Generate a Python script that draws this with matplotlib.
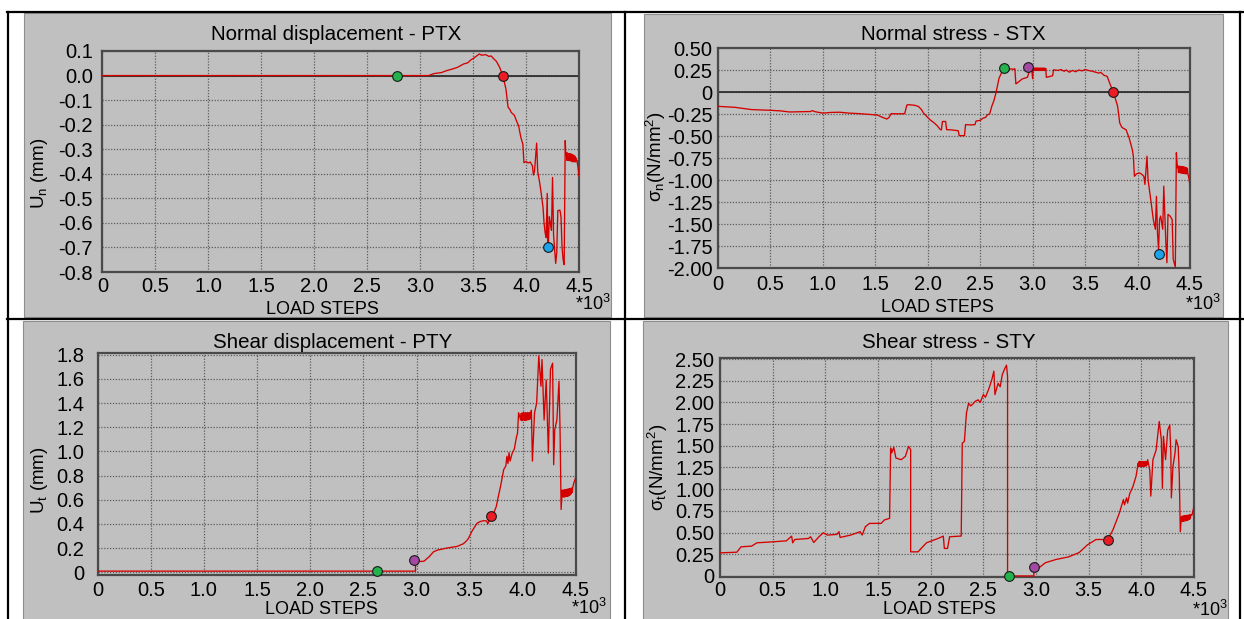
import matplotlib
matplotlib.use("Agg")
import matplotlib.pyplot as plt
from matplotlib.patches import Rectangle
from matplotlib.lines import Line2D

plt.rcParams['font.family'] = ['Liberation Sans', 'DejaVu Sans']
plt.rcParams['mathtext.default'] = 'regular'

# ---------------------------------------------------------------- data
# load steps are in units of 10^3
x_ticks = [0, 0.5, 1.0, 1.5, 2.0, 2.5, 3.0, 3.5, 4.0, 4.5]
x_tick_labels = ['0', '0.5', '1.0', '1.5', '2.0', '2.5', '3.0', '3.5', '4.0', '4.5']

# Normal displacement - PTX
ptx_steps = [0.00, 3.08, 3.13, 3.20, 3.25, 3.30, 3.35, 3.41, 3.45, 3.48, 3.51, 3.54,
             3.56, 3.58, 3.62, 3.65, 3.67, 3.70, 3.72, 3.75, 3.78, 3.81, 3.83, 3.85,
             3.86, 3.89, 3.91, 3.93, 3.95, 3.97, 3.98, 4.00, 4.02, 4.04, 4.06, 4.07,
             4.08, 4.10, 4.11, 4.13, 4.14, 4.16, 4.17, 4.18, 4.19, 4.20, 4.205, 4.21,
             4.22, 4.23, 4.24, 4.25, 4.26, 4.27, 4.28, 4.29, 4.30, 4.32, 4.33, 4.34,
             4.35, 4.36, 4.37, 4.375, 4.38, 4.385, 4.39, 4.395, 4.40, 4.405, 4.41,
             4.415, 4.42, 4.425, 4.43, 4.435, 4.44, 4.445, 4.45, 4.455, 4.46, 4.465,
             4.47, 4.475, 4.48, 4.49, 4.50]
ptx_un = [0.000, 0.000, 0.008, 0.012, 0.020, 0.026, 0.033, 0.047, 0.052, 0.064, 0.072, 0.082,
          0.088, 0.083, 0.085, 0.078, 0.080, 0.066, 0.058, 0.034, 0.000, -0.054, -0.128, -0.140,
          -0.150, -0.162, -0.185, -0.205, -0.250, -0.280, -0.355, -0.350, -0.356, -0.352, -0.368, -0.405,
          -0.390, -0.275, -0.390, -0.440, -0.470, -0.535, -0.600, -0.640, -0.660, -0.480, -0.690, -0.700,
          -0.575, -0.600, -0.630, -0.415, -0.650, -0.710, -0.765, -0.720, -0.550, -0.548, -0.575, -0.700,
          -0.750, -0.770, -0.265, -0.320, -0.315, -0.345, -0.315, -0.345, -0.318, -0.346, -0.318,
          -0.347, -0.319, -0.348, -0.320, -0.350, -0.322, -0.352, -0.325, -0.350, -0.328, -0.352,
          -0.335, -0.350, -0.345, -0.372, -0.410]
ptx_marker_steps = [2.78, 3.78, 4.21]
ptx_marker_values = [0.0, 0.0, -0.70]
ptx_marker_colors = ['#23b24b', '#ec1c24', '#1aa3e8']
ptx_yticks = [0.1, 0.0, -0.1, -0.2, -0.3, -0.4, -0.5, -0.6, -0.7, -0.8]
ptx_ylabels = ['0.1', '0.0', '-0.1', '-0.2', '-0.3', '-0.4', '-0.5', '-0.6', '-0.7', '-0.8']

# Normal stress - STX
stx_steps = [0.00, 0.16, 0.32, 0.50, 0.60, 0.68, 0.78, 0.88, 0.90, 0.93, 1.00, 1.08,
             1.16, 1.25, 1.35, 1.48, 1.52, 1.56, 1.61, 1.63, 1.65, 1.72, 1.78, 1.80,
             1.81, 1.87, 1.91, 1.94, 1.96, 2.02, 2.06, 2.09, 2.12, 2.13, 2.14, 2.17,
             2.18, 2.22, 2.26, 2.29, 2.30, 2.35, 2.36, 2.41, 2.45, 2.46, 2.50, 2.53,
             2.55, 2.57, 2.59, 2.61, 2.63, 2.65, 2.68, 2.71, 2.74, 2.76, 2.79, 2.82,
             2.83, 2.84, 2.85, 2.90, 2.93, 2.95, 2.97, 2.99, 3.00, 3.005, 3.01, 3.015,
             3.02, 3.025, 3.03, 3.035, 3.04, 3.045, 3.05, 3.055, 3.06, 3.065, 3.07,
             3.075, 3.08, 3.085, 3.09, 3.095, 3.10, 3.105, 3.11, 3.115, 3.12, 3.125,
             3.13, 3.16, 3.19, 3.20, 3.24, 3.27, 3.30, 3.32, 3.35, 3.38, 3.41, 3.44,
             3.47, 3.50, 3.53, 3.57, 3.60, 3.63, 3.65, 3.68, 3.71, 3.74, 3.77, 3.81,
             3.83, 3.85, 3.86, 3.89, 3.92, 3.95, 3.96, 3.97, 3.99, 4.02, 4.04, 4.06,
             4.07, 4.09, 4.10, 4.13, 4.15, 4.17, 4.18, 4.19, 4.20, 4.21, 4.22, 4.24,
             4.25, 4.27, 4.28, 4.29, 4.31, 4.33, 4.34, 4.36, 4.37, 4.38, 4.385, 4.39,
             4.395, 4.40, 4.405, 4.41, 4.415, 4.42, 4.425, 4.43, 4.435, 4.44, 4.445,
             4.45, 4.455, 4.46, 4.465, 4.47, 4.475, 4.48, 4.49, 4.50]
stx_sn = [-0.163, -0.174, -0.200, -0.208, -0.215, -0.227, -0.225, -0.222, -0.212, -0.225, -0.240, -0.232,
          -0.230, -0.240, -0.246, -0.258, -0.262, -0.284, -0.307, -0.290, -0.246, -0.248, -0.246, -0.150,
          -0.144, -0.150, -0.163, -0.200, -0.240, -0.314, -0.350, -0.383, -0.428, -0.430, -0.335, -0.335,
          -0.428, -0.430, -0.436, -0.440, -0.496, -0.496, -0.371, -0.374, -0.371, -0.330, -0.322, -0.295,
          -0.290, -0.258, -0.250, -0.163, -0.100, -0.011, 0.159, 0.235, 0.260, 0.254, 0.262, 0.258,
          0.265, 0.093, 0.100, 0.148, 0.160, 0.167, 0.240, 0.270, 0.150, 0.265, 0.245, 0.272,
          0.245, 0.272, 0.246, 0.273, 0.245, 0.272, 0.246, 0.272, 0.245, 0.271, 0.246,
          0.272, 0.245, 0.272, 0.246, 0.271, 0.245, 0.272, 0.246, 0.270, 0.245, 0.268,
          0.167, 0.175, 0.185, 0.252, 0.245, 0.255, 0.235, 0.250, 0.225, 0.245, 0.230, 0.250,
          0.240, 0.255, 0.245, 0.235, 0.225, 0.215, 0.223, 0.190, 0.178, 0.083, 0.000, -0.163,
          -0.352, -0.400, -0.409, -0.428, -0.523, -0.655, -0.730, -0.958, -0.930, -0.920, -0.935, -0.958,
          -1.050, -0.730, -0.996, -1.260, -1.450, -1.560, -1.186, -1.600, -1.790, -1.450, -1.410, -1.560,
          -1.070, -1.720, -1.940, -1.390, -1.410, -1.450, -1.900, -1.990, -0.690, -0.860, -0.840, -0.915,
          -0.842, -0.918, -0.845, -0.920, -0.846, -0.922, -0.848, -0.924, -0.850, -0.926, -0.852,
          -0.928, -0.856, -0.930, -0.860, -0.930, -0.868, -0.930, -0.980, -1.070]
stx_marker_steps = [2.73, 2.96, 3.77, 4.20]
stx_marker_values = [0.27, 0.28, 0.0, -1.84]
stx_marker_colors = ['#23b24b', '#a349a4', '#ec1c24', '#1aa3e8']
stx_yticks = [0.5, 0.25, 0, -0.25, -0.5, -0.75, -1.0, -1.25, -1.5, -1.75, -2.0]
stx_ylabels = ['0.50', '0.25', '0', '-0.25', '-0.50', '-0.75', '-1.00', '-1.25', '-1.50',
               '-1.75', '-2.00']

# Shear displacement - PTY
pty_steps = [0.00, 2.99, 2.99, 3.03, 3.07, 3.10, 3.12, 3.16, 3.20, 3.23, 3.27, 3.32,
             3.35, 3.38, 3.41, 3.44, 3.47, 3.49, 3.52, 3.55, 3.57, 3.60, 3.63, 3.66,
             3.67, 3.70, 3.73, 3.75, 3.77, 3.79, 3.82, 3.84, 3.85, 3.86, 3.87, 3.88,
             3.90, 3.92, 3.94, 3.95, 3.96, 3.98, 3.985, 3.99, 3.995, 4.00, 4.005, 4.01,
             4.015, 4.02, 4.025, 4.03, 4.035, 4.04, 4.045, 4.05, 4.055, 4.06, 4.065,
             4.07, 4.08, 4.09, 4.11, 4.13, 4.15, 4.17, 4.18, 4.20, 4.22, 4.24, 4.26,
             4.28, 4.29, 4.30, 4.32, 4.34, 4.35, 4.36, 4.37, 4.375, 4.38, 4.385, 4.39,
             4.395, 4.40, 4.405, 4.41, 4.415, 4.42, 4.425, 4.43, 4.435, 4.44, 4.445,
             4.45, 4.455, 4.46, 4.465, 4.47, 4.48, 4.50]
pty_ut = [0.010, 0.010, 0.095, 0.090, 0.092, 0.115, 0.130, 0.170, 0.185, 0.190, 0.198, 0.206,
          0.210, 0.214, 0.225, 0.236, 0.260, 0.283, 0.338, 0.380, 0.407, 0.420, 0.427, 0.425,
          0.400, 0.467, 0.500, 0.544, 0.630, 0.710, 0.850, 0.880, 0.960, 0.900, 0.990, 0.920,
          0.986, 1.020, 1.120, 1.150, 1.320, 1.260, 1.315, 1.255, 1.318, 1.258, 1.320, 1.260,
          1.318, 1.256, 1.320, 1.258, 1.318, 1.260, 1.320, 1.262, 1.318, 1.265, 1.320,
          1.270, 1.340, 0.920, 1.320, 1.400, 1.790, 1.540, 1.760, 1.260, 1.590, 0.986, 1.680,
          1.730, 0.890, 1.180, 1.260, 1.580, 1.180, 0.520, 0.680, 0.625, 0.680, 0.622, 0.682,
          0.624, 0.684, 0.626, 0.686, 0.628, 0.688, 0.630, 0.690, 0.634, 0.692, 0.640,
          0.694, 0.648, 0.698, 0.660, 0.705, 0.740, 0.790]
pty_marker_steps = [2.63, 2.98, 3.70]
pty_marker_values = [0.01, 0.10, 0.467]
pty_marker_colors = ['#23b24b', '#a349a4', '#ec1c24']
pty_yticks = [1.8, 1.6, 1.4, 1.2, 1.0, 0.8, 0.6, 0.4, 0.2, 0]
pty_ylabels = ['1.8', '1.6', '1.4', '1.2', '1.0', '0.8', '0.6', '0.4', '0.2', '0']

# Shear stress - STY
sty_steps = [0.00, 0.16, 0.20, 0.30, 0.35, 0.51, 0.63, 0.68, 0.69, 0.71, 0.84, 0.86,
             0.89, 0.94, 0.98, 1.02, 1.11, 1.13, 1.14, 1.24, 1.33, 1.35, 1.38, 1.42,
             1.53, 1.56, 1.61, 1.62, 1.63, 1.65, 1.67, 1.72, 1.76, 1.79, 1.81, 1.81,
             1.88, 1.91, 1.96, 2.07, 2.12, 2.13, 2.16, 2.18, 2.29, 2.30, 2.32, 2.34,
             2.36, 2.38, 2.40, 2.42, 2.45, 2.47, 2.50, 2.52, 2.55, 2.58, 2.60, 2.61,
             2.64, 2.66, 2.68, 2.70, 2.72, 2.73, 2.73, 2.98, 2.98, 3.03, 3.09, 3.19,
             3.31, 3.41, 3.49, 3.57, 3.63, 3.68, 3.73, 3.79, 3.83, 3.84, 3.86, 3.87,
             3.89, 3.92, 3.95, 3.97, 3.975, 3.98, 3.985, 3.99, 3.995, 4.00, 4.005,
             4.01, 4.015, 4.02, 4.025, 4.03, 4.035, 4.04, 4.045, 4.05, 4.055, 4.06,
             4.08, 4.09, 4.11, 4.14, 4.17, 4.19, 4.20, 4.21, 4.23, 4.25, 4.27, 4.28,
             4.285, 4.30, 4.32, 4.33, 4.35, 4.36, 4.37, 4.38, 4.385, 4.39, 4.395, 4.40,
             4.405, 4.41, 4.415, 4.42, 4.425, 4.43, 4.435, 4.44, 4.445, 4.45, 4.455,
             4.46, 4.465, 4.47, 4.48, 4.50]
sty_st = [0.266, 0.274, 0.336, 0.344, 0.382, 0.394, 0.405, 0.459, 0.382, 0.420, 0.432, 0.452,
          0.386, 0.452, 0.498, 0.471, 0.479, 0.510, 0.444, 0.471, 0.510, 0.471, 0.568, 0.606,
          0.606, 0.645, 0.664, 1.475, 1.417, 1.483, 1.359, 1.340, 1.378, 1.494, 1.456, 0.278,
          0.278, 0.317, 0.382, 0.432, 0.459, 0.317, 0.317, 0.452, 0.460, 1.530, 1.550, 1.880,
          1.990, 1.960, 1.980, 2.010, 2.030, 2.000, 2.090, 2.060, 2.150, 2.260, 2.360, 2.090,
          2.220, 2.180, 2.320, 2.380, 2.430, 2.300, 0.000, 0.000, 0.077, 0.096, 0.153, 0.190,
          0.220, 0.270, 0.360, 0.420, 0.420, 0.415, 0.530, 0.720, 0.880, 0.820, 0.900, 0.840,
          0.950, 1.030, 1.150, 1.300, 1.262, 1.320, 1.260, 1.318, 1.262, 1.320, 1.260,
          1.318, 1.262, 1.320, 1.262, 1.318, 1.265, 1.320, 1.268, 1.318, 1.280, 1.340,
          1.220, 0.920, 1.340, 1.450, 1.780, 1.570, 1.010, 1.610, 1.340, 1.680, 1.740, 1.420,
          0.900, 1.260, 1.420, 1.570, 1.490, 1.180, 0.510, 0.680, 0.628, 0.690, 0.630, 0.692,
          0.632, 0.694, 0.634, 0.696, 0.636, 0.698, 0.640, 0.700, 0.645, 0.702, 0.652,
          0.705, 0.660, 0.708, 0.700, 0.800]
sty_marker_steps = [2.74, 2.98, 3.68]
sty_marker_values = [0.0, 0.107, 0.42]
sty_marker_colors = ['#23b24b', '#a349a4', '#ec1c24']
sty_yticks = [2.5, 2.25, 2.0, 1.75, 1.5, 1.25, 1.0, 0.75, 0.5, 0.25, 0]
sty_ylabels = ['2.50', '2.25', '2.00', '1.75', '1.50', '1.25', '1.00', '0.75', '0.50',
               '0.25', '0']

# ---------------------------------------------------------------- drawing
W, H = 1244, 619
fig = plt.figure(figsize=(W / 100, H / 100), dpi=100)
fig.patch.set_facecolor('white')

PANEL_GREY = '#c0c0c0'
LINE_RED = '#d40000'


def fx(x):
    return x / W


def fy(y):
    return 1 - y / H


def table_line(x0, y0, x1, y1):
    fig.add_artist(Line2D([fx(x0), fx(x1)], [fy(y0), fy(y1)], color='black',
                          linewidth=1.6, transform=fig.transFigure, zorder=5))


def panel(box, axbox, title, title_xy, ylabel, ylabel_xy, xlabel_xy, exp_xy,
          steps, values, ylim, yticks, ylabels, m_steps, m_vals, m_cols,
          ypad, xpad, zero_line):
    px0, py0, px1, py1 = box
    fig.add_artist(Rectangle((fx(px0), fy(py1)), fx(px1) - fx(px0), fy(py0) - fy(py1),
                             transform=fig.transFigure, facecolor=PANEL_GREY,
                             edgecolor='#8e8e8e', linewidth=0.8, zorder=0))
    l, t, r, b = axbox
    ax = fig.add_axes([fx(l), fy(b), fx(r) - fx(l), fy(t) - fy(b)])
    ax.set_facecolor(PANEL_GREY)
    ax.set_xlim(0, 4.5)
    ax.set_ylim(*ylim)
    ax.set_xticks(x_ticks)
    ax.set_xticklabels(x_tick_labels)
    ax.set_yticks(yticks)
    ax.set_yticklabels(ylabels)
    ax.tick_params(axis='both', length=0, labelsize=14.5, colors='black')
    ax.tick_params(axis='y', pad=ypad)
    ax.tick_params(axis='x', pad=xpad)
    ax.set_axisbelow(True)
    ax.grid(True, color='#5c5c5c', linestyle=(0, (1, 1.3)), linewidth=0.9)
    for sp in ax.spines.values():
        sp.set_color('#4a4a4a')
        sp.set_linewidth(1.6)
    if zero_line:
        ax.axhline(0, color='#2e2e2e', linewidth=1.3, zorder=2)
    ax.plot(steps, values, color=LINE_RED, linewidth=0.95, zorder=3)
    for xs, ys, c in zip(m_steps, m_vals, m_cols):
        ax.plot([xs], [ys], marker='o', markersize=7, markerfacecolor=c,
                markeredgecolor='#1a1a1a', markeredgewidth=0.8, zorder=4,
                clip_on=False)
    fig.text(fx(title_xy[0]), fy(title_xy[1]), title, ha='center', va='center',
             fontsize=14.8)
    fig.text(fx(ylabel_xy[0]), fy(ylabel_xy[1]), ylabel, ha='center', va='center',
             rotation=90, fontsize=13.5)
    fig.text(fx(xlabel_xy[0]), fy(xlabel_xy[1]), 'LOAD STEPS', ha='center',
             va='center', fontsize=13)
    fig.text(fx(exp_xy[0]), fy(exp_xy[1]), '*10$^3$', ha='right', va='center',
             fontsize=13)
    return ax


panel((24, 13, 611, 317), (102.4, 51, 579, 272), 'Normal displacement - PTX', (336, 34),
      'U$_n$ (mm)', (40, 173), (322, 309), (611, 304),
      ptx_steps, ptx_un, (-0.8, 0.1), ptx_yticks, ptx_ylabels,
      ptx_marker_steps, ptx_marker_values, ptx_marker_colors, 7, 3.5, True)

panel((644, 14, 1223, 317), (718, 48, 1190, 268), 'Normal stress - STX', (953, 35),
      'σ$_n$(N/mm$^2$)', (656, 157), (937, 307), (1221, 304),
      stx_steps, stx_sn, (-2.0, 0.5), stx_yticks, stx_ylabels,
      stx_marker_steps, stx_marker_values, stx_marker_colors, 4, 5, True)

panel((23, 321, 610, 622), (97.6, 353, 576, 575), 'Shear displacement - PTY', (333, 342),
      'U$_t$ (mm)', (40, 480), (321, 610), (607, 608),
      pty_steps, pty_ut, (-0.022, 1.814), pty_yticks, pty_ylabels,
      pty_marker_steps, pty_marker_values, pty_marker_colors, 9.5, 4, False)

panel((643, 321, 1228, 622), (720, 358, 1194, 577), 'Shear stress - STY', (949, 342),
      'σ$_t$(N/mm$^2$)', (658, 467), (939, 610), (1228, 609.5),
      sty_steps, sty_st, (-0.012, 2.512), sty_yticks, sty_ylabels,
      sty_marker_steps, sty_marker_values, sty_marker_colors, 4.3, 3, False)

# table rules
table_line(7, 12, W, 12)
table_line(7, 319, W, 319)
table_line(8, 12, 8, H)
table_line(625, 12, 625, H)
table_line(1240, 12, 1240, H)

fig.savefig('out.png', dpi=100, facecolor='white')
